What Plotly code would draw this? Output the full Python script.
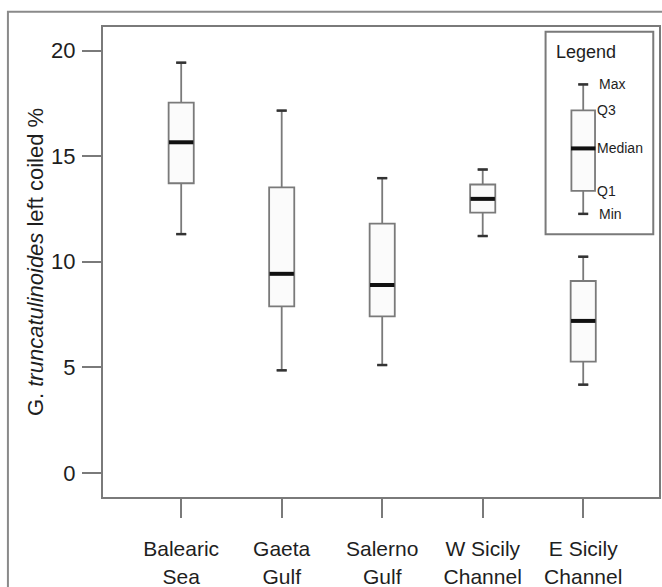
import plotly.graph_objects as go

# ---- data ----
sites = ["Balearic<br>Sea", "Gaeta<br>Gulf", "Salerno<br>Gulf", "W Sicily<br>Channel", "E Sicily<br>Channel"]
v_max = [19.43, 17.16, 13.96, 14.37, 10.24]
v_q3 = [17.54, 13.52, 11.81, 13.66, 9.09]
v_med = [15.66, 9.43, 8.90, 12.98, 7.20]
v_q1 = [13.72, 7.89, 7.41, 12.33, 5.27]
v_min = [11.31, 4.86, 5.11, 11.22, 4.18]

# legend sample box (drawn in the inset key)
key_labels = ["Max", "Q3", "Median", "Q1", "Min"]
key_vals = [18.40, 17.17, 15.37, 13.36, 12.27]

y_ticks = [0, 5, 10, 15, 20]

FONT = "Liberation Sans, Arial, sans-serif"
TXT = "#1e1e1e"
GRAY = "#7a7a7a"
BOXW = 0.25
CAPW = 0.10

pos = list(range(len(sites)))
key_x = pos[-1]

fig = go.Figure()

# main boxes
fig.add_trace(go.Box(
    x=pos, q1=v_q1, median=v_med, q3=v_q3, lowerfence=v_min, upperfence=v_max,
    width=BOXW, whiskerwidth=CAPW / BOXW, boxpoints=False,
    line=dict(color=GRAY, width=1.8), fillcolor="#fbfbfb",
    showlegend=False, hoverinfo="skip",
))

# key box
fig.add_trace(go.Box(
    x=[key_x], q1=[key_vals[3]], median=[key_vals[2]], q3=[key_vals[1]],
    lowerfence=[key_vals[4]], upperfence=[key_vals[0]],
    width=BOXW * 0.94, whiskerwidth=CAPW / BOXW, boxpoints=False,
    line=dict(color=GRAY, width=1.8), fillcolor="#fbfbfb",
    showlegend=False, hoverinfo="skip",
))

# thick medians and dark caps
def segs(xs, ys, half):
    sx, sy = [], []
    for x, y in zip(xs, ys):
        sx += [x - half, x + half, None]
        sy += [y, y, None]
    return sx, sy

mx, my = segs(pos + [key_x], v_med + [key_vals[2]], BOXW / 2 * 0.97)
fig.add_trace(go.Scatter(x=mx, y=my, mode="lines", line=dict(color="#111111", width=4),
                         showlegend=False, hoverinfo="skip"))
cx, cy = segs(pos * 2 + [key_x, key_x], v_max + v_min + [key_vals[0], key_vals[4]], CAPW / 2)
fig.add_trace(go.Scatter(x=cx, y=cy, mode="lines", line=dict(color="#333333", width=2.5),
                         showlegend=False, hoverinfo="skip"))

# key labels
label_dx = [0.135, 0.115, 0.115, 0.115, 0.135]
for lab, v, dx in zip(key_labels, key_vals, label_dx):
    fig.add_annotation(x=key_x + dx, y=v, text=lab, showarrow=False, xanchor="left",
                       yanchor="middle", font=dict(family=FONT, size=14, color=TXT))
fig.add_annotation(x=0.811, y=0.947, xref="paper", yref="paper", text="Legend",
                   showarrow=False, xanchor="left", yanchor="middle",
                   font=dict(family=FONT, size=18, color=TXT))

# key frame and outer frame
fig.add_shape(type="rect", xref="paper", yref="paper", x0=0.796, x1=0.9897, y0=0.559, y1=0.990,
              line=dict(color=GRAY, width=2), fillcolor="rgba(0,0,0,0)")
fig.add_shape(type="rect", xref="paper", yref="paper", x0=-0.171, x1=1.2, y0=-0.5, y1=1.0325,
              line=dict(color="#8a8a8a", width=2), fillcolor="rgba(0,0,0,0)")

fig.update_layout(
    width=662, height=587,
    margin=dict(l=103, r=3, t=27, b=90, autoexpand=False),
    paper_bgcolor="white", plot_bgcolor="white",
    font=dict(family=FONT, color=TXT),
    showlegend=False,
)
fig.update_xaxes(
    range=[-0.778, 4.754], tickvals=pos, ticktext=sites,
    ticks="outside", ticklen=19, tickwidth=2, tickcolor=GRAY,
    showline=True, mirror=True, linecolor=GRAY, linewidth=2,
    showgrid=False, zeroline=False, tickfont=dict(size=21, color=TXT),
    ticklabelstandoff=13, automargin=False,
)
fig.update_yaxes(
    range=[-1.14, 21.12], tickvals=y_ticks, ticktext=[str(t) for t in y_ticks],
    ticks="outside", ticklen=19, tickwidth=2, tickcolor=GRAY,
    showline=True, mirror=True, linecolor=GRAY, linewidth=2,
    showgrid=False, zeroline=False, tickfont=dict(size=22, color=TXT),
    ticklabelstandoff=2, automargin=False,
    title=dict(text="G. <i>truncatulinoides</i> left coiled %", font=dict(size=22, color=TXT), standoff=1),
)

fig.write_html("out.html")
